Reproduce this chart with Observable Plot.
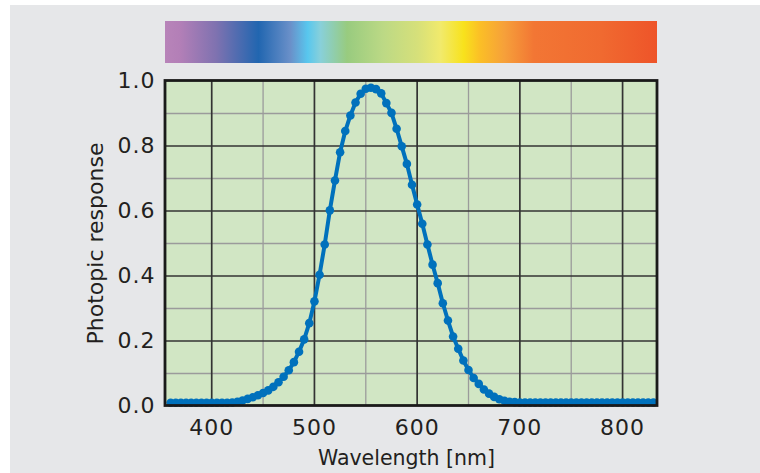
<!DOCTYPE html>
<html><head><meta charset="utf-8">
<script src="https://cdn.jsdelivr.net/npm/d3@7"></script>
<script src="https://cdn.jsdelivr.net/npm/@observablehq/plot@0.6"></script>
<style>
html,body{margin:0;padding:0;background:#fff;}
#wrap{position:relative;width:760px;height:473px;overflow:hidden;}
#panel{position:absolute;left:10px;top:5px;right:0;bottom:0;background:#e6e7e9;}
#wrap svg{position:absolute;left:0;top:0;}
</style></head>
<body><div id="wrap"><div id="panel"></div></div>
<script>
// ---- data ----
const wavelengths = [360,365,370,375,380,385,390,395,400,405,410,415,
  420,425,430,435,440,445,450,455,460,465,470,475,480,485,490,495,
  500,505,510,515,520,525,530,535,540,545,550,555,560,565,570,575,
  580,585,590,595,600,605,610,615,620,625,630,635,640,645,650,655,
  660,665,670,675,680,685,690,695,
  700,705,710,715,720,725,730,735,740,745,750,755,760,765,770,775,
  780,785,790,795,800,805,810,815,820,825,830];
const response = [0.010,0.010,0.010,0.010,0.010,0.010,0.010,0.010,0.010,0.010,0.010,0.010,
  0.011,0.013,0.017,0.022,0.027,0.033,0.040,0.048,0.059,0.073,0.090,0.110,0.135,0.167,0.205,0.255,
  0.322,0.404,0.497,0.602,0.694,0.781,0.846,0.894,0.934,0.961,0.976,0.979,0.975,0.962,0.932,0.902,
  0.853,0.799,0.745,0.681,0.620,0.561,0.497,0.435,0.378,0.316,0.263,0.214,0.176,0.140,0.111,0.086,
  0.068,0.051,0.038,0.028,0.021,0.016,0.013,0.012,
  0.011,0.011,0.011,0.011,0.011,0.011,0.011,0.011,0.011,0.011,0.011,0.011,0.011,0.011,0.011,0.011,
  0.011,0.011,0.011,0.011,0.011,0.011,0.011,0.011,0.011,0.011,0.011];
const xDomain = [355, 834];
const xMajor = [400,500,600,700,800];
const xMinor = [450,550,650,750];
const yMajor = [0.2,0.4,0.6,0.8];
const yMinor = [0.1,0.3,0.5,0.7,0.9];
const yTicks = [0,0.2,0.4,0.6,0.8,1.0];
const xTitle = "Wavelength [nm]";
const yTitle = "Photopic response";
const specOffsets = [0,0.03,0.104,0.19,0.255,0.29,0.316,0.37,0.444,0.513,0.56,0.607,0.64,0.69,0.75,0.886,1];
const specColors = ["#b884b9","#b37fb7","#7f72b0","#2166b0","#6a90c9","#58c7ee","#88d0da","#98cb7f","#bcd985","#d6e07a","#f1ea6c","#f8e21c","#fbbf26","#f6a03a","#f27634","#f06a30","#ee5429"];

const data = wavelengths.map((w,i)=>({w, v: response[i]}));
const blue = "#0071bc";
const font = "DejaVu Sans";

const main = Plot.plot({
  width: 760, height: 473,
  marginTop: 80.5, marginBottom: 67.5, marginLeft: 165, marginRight: 103,
  style: {background: "transparent", fontFamily: font, color: "#231f20"},
  x: {domain: xDomain},
  y: {domain: [0, 1]},
  marks: [
    Plot.rect([0], {x1: xDomain[0], x2: xDomain[1], y1: 0, y2: 1, fill: "#d1e6c4"}),
    Plot.ruleX(xMinor, {y1: 0, y2: 1, stroke: "#9b9b9b", strokeWidth: 1.3}),
    Plot.ruleY(yMinor, {x1: xDomain[0], x2: xDomain[1], stroke: "#9b9b9b", strokeWidth: 1.3}),
    Plot.ruleX(xMajor, {y1: 0, y2: 1, stroke: "#333", strokeWidth: 1.7}),
    Plot.ruleY(yMajor, {x1: xDomain[0], x2: xDomain[1], stroke: "#333", strokeWidth: 1.7}),
    Plot.line(data, {x: "w", y: "v", stroke: blue, strokeWidth: 4}),
    Plot.dot(data, {x: "w", y: "v", r: 4.3, fill: blue, stroke: "none"}),
    Plot.rect([0], {x1: xDomain[0], x2: xDomain[1], y1: 0, y2: 1, fill: "none", stroke: "#1a1a1a", strokeWidth: 2.8}),
    Plot.axisX(xMajor, {tickSize: 0, tickPadding: 13, fontSize: 22, label: null, tickFormat: d => String(d)}),
    Plot.axisY(yTicks, {tickSize: 0, tickPadding: 10, fontSize: 22, label: null, tickFormat: d3.format(".1f")}),
    Plot.text([xTitle], {frameAnchor: "bottom", dx: -5, dy: 59, lineAnchor: "bottom", fontSize: 20.5, fill: "#231f20"}),
    Plot.text([yTitle], {frameAnchor: "left", dx: -70, rotate: -90, textAnchor: "middle", fontSize: 22, fill: "#231f20"})
  ]
});
d3.select(main).selectAll('g[aria-label="x-axis tick label"] text, g[aria-label="y-axis tick label"] text').attr("letter-spacing", "1");

const spectrum = Plot.plot({
  width: 760, height: 64,
  marginTop: 21, marginBottom: 1, marginLeft: 165, marginRight: 103,
  style: {background: "transparent"},
  x: {domain: xDomain, axis: null},
  y: {domain: [0, 1], axis: null},
  marks: [
    () => {
      const defs = d3.create("svg:defs");
      const g = defs.append("linearGradient").attr("id", "spec").attr("x1", 0).attr("x2", 1).attr("y1", 0).attr("y2", 0);
      specOffsets.forEach((o, i) => g.append("stop").attr("offset", o).attr("stop-color", specColors[i]));
      return defs.node();
    },
    Plot.rect([0], {x1: xDomain[0], x2: xDomain[1], y1: 0, y2: 1, fill: "url(#spec)"})
  ]
});

const wrap = document.getElementById("wrap");
wrap.appendChild(main);
wrap.appendChild(spectrum);
</script>
</body></html>
